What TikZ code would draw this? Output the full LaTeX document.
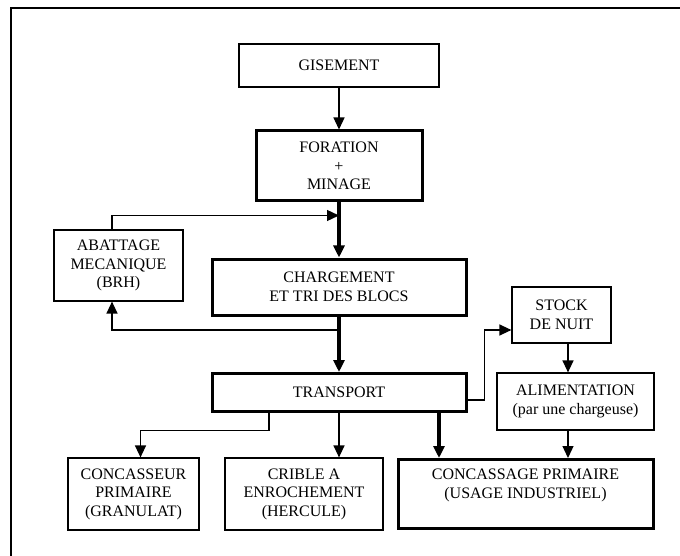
\documentclass[tikz,border=0pt]{standalone}
\usepackage{fontspec}
\setmainfont{Liberation Serif}
\usetikzlibrary{arrows.meta}

\begin{document}
\begin{tikzpicture}[x=1pt,y=-1pt]
\tikzstyle{etape}=[draw,line width=1.2pt,align=center,inner sep=0pt,
	font=\fontsize{16}{18.5}\selectfont];
\tikzstyle{etapeforte}=[etape,line width=3pt];
\tikzstyle{fleche}=[line width=1.3pt,-{Triangle[length=12pt,width=11pt]}];
\tikzstyle{flecheforte}=[line width=3.2pt,-{Triangle[length=12pt,width=11pt]}];
\useasboundingbox (0,0) rectangle (680,556);
\draw[line width=1.3pt] (680,8)--(11,8)--(11,556);
\node[etape,minimum width=200,minimum height=43] (G)at(339,65.5) {GISEMENT};
\node[etapeforte,minimum width=166,minimum height=70] (F)at(339,166) {FORATION\\+\\MINAGE};
\node[etape,minimum width=129,minimum height=71] (A)at(118.5,265.5) {ABATTAGE\\MECANIQUE\\(BRH)};
\node[etapeforte,minimum width=254,minimum height=56] (C)at(339,287) {CHARGEMENT\\ET TRI DES BLOCS};
\node[etape,minimum width=99,minimum height=56] (S)at(561.5,315) {STOCK\\DE NUIT};
\node[etapeforte,minimum width=254,minimum height=38] (T)at(339,392.5) {TRANSPORT};
\node[etape,minimum width=157,minimum height=57] (L)at(575.5,401.5) {ALIMENTATION\\(par une chargeuse)};
\node[etape,minimum width=131,minimum height=72] (K1)at(133.5,494) {CONCASSEUR\\PRIMAIRE\\(GRANULAT)};
\node[etape,minimum width=158,minimum height=72] (K2)at(304,494) {CRIBLE A\\ENROCHEMENT\\(HERCULE)};
\node[etapeforte,minimum width=255,minimum height=69] (K3)at(525.5,494) {CONCASSAGE PRIMAIRE\\(USAGE INDUSTRIEL)\\[2pt]\mbox{}};
\coordinate (J1)at(339,215.5);
\coordinate (J2)at(339,330);
\draw[fleche](G)--(F);
\draw[flecheforte](F)--(C);
\draw[flecheforte](C)--(T);
\draw[fleche]([xshift=-6.5pt]A.north)|-(J1);
\draw[fleche](J2)-|([xshift=-6.5pt]A.south);
\draw[fleche]([yshift=-7.5pt]T.east)--++(17,0)|-([yshift=-15pt]S.west);
\draw[fleche]([xshift=6.5pt]S.south)--([xshift=-7.5pt]L.north);
\draw[fleche]([xshift=-7.5pt]L.south)--([xshift=-7.5pt]L.south|-K3.north);
\draw[fleche]([xshift=-70pt]T.south)--++(0,17.5)-|([xshift=7pt]K1.north);
\draw[fleche](T.south)--(T.south|-K2.north);
\draw[flecheforte]([xshift=100pt]T.south)--([xshift=100pt]T.south|-K3.north);
\end{tikzpicture}
\end{document}
